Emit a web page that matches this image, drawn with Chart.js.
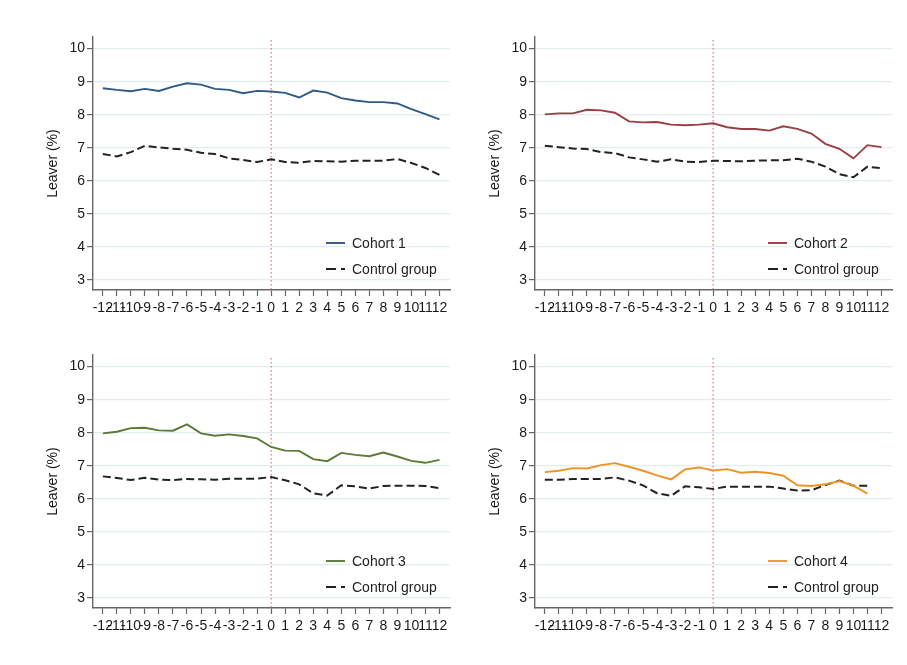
<!DOCTYPE html>
<html>
<head>
<meta charset="utf-8">
<script src="https://cdn.jsdelivr.net/npm/chart.js@4.4.1/dist/chart.umd.min.js"></script>
<style>
  body { margin:0; background:#fff; }
  #wrap { position:relative; width:907px; height:665px; }
  canvas { position:absolute; }
</style>
</head>
<body>
<div id="wrap">
  <canvas id="c1" width="453" height="330" style="left:0px;top:0px"></canvas>
  <canvas id="c2" width="453" height="330" style="left:442px;top:0px"></canvas>
  <canvas id="c3" width="453" height="330" style="left:0px;top:318px"></canvas>
  <canvas id="c4" width="453" height="330" style="left:442px;top:318px"></canvas>
</div>
<script>
// event time relative to treatment
var periods = [-12,-11,-10,-9,-8,-7,-6,-5,-4,-3,-2,-1,0,1,2,3,4,5,6,7,8,9,10,11,12];
var yTicks = [3,4,5,6,7,8,9,10];

var cohort1  = [8.80,8.75,8.71,8.78,8.72,8.85,8.95,8.91,8.78,8.75,8.65,8.72,8.70,8.66,8.52,8.73,8.67,8.50,8.43,8.38,8.38,8.34,8.17,8.02,7.86];
var control1 = [6.81,6.74,6.87,7.06,7.01,6.97,6.94,6.85,6.81,6.68,6.63,6.57,6.65,6.57,6.55,6.60,6.59,6.58,6.61,6.61,6.61,6.66,6.54,6.39,6.18];

var cohort2  = [8.01,8.04,8.04,8.15,8.13,8.06,7.80,7.77,7.78,7.70,7.68,7.70,7.74,7.62,7.57,7.57,7.52,7.65,7.57,7.43,7.12,6.97,6.68,7.08,7.02];
var control2 = [7.06,7.02,6.98,6.96,6.87,6.84,6.71,6.65,6.58,6.65,6.58,6.57,6.61,6.60,6.59,6.61,6.62,6.62,6.67,6.58,6.43,6.20,6.11,6.43,6.38];

var cohort3  = [7.98,8.03,8.14,8.15,8.07,8.06,8.25,7.98,7.91,7.95,7.90,7.83,7.57,7.46,7.45,7.20,7.14,7.39,7.33,7.29,7.40,7.28,7.15,7.09,7.18];
var control3 = [6.68,6.63,6.57,6.64,6.58,6.57,6.60,6.59,6.58,6.61,6.61,6.61,6.66,6.56,6.44,6.17,6.10,6.41,6.38,6.31,6.39,6.40,6.40,6.39,6.32];

var cohort4  = [6.81,6.85,6.93,6.92,7.02,7.08,6.97,6.85,6.71,6.59,6.89,6.95,6.86,6.90,6.79,6.82,6.78,6.70,6.41,6.39,6.44,6.54,6.40,6.16,null];
var control4 = [6.58,6.58,6.60,6.60,6.60,6.65,6.55,6.41,6.17,6.09,6.38,6.35,6.30,6.37,6.37,6.37,6.37,6.31,6.25,6.26,6.42,6.55,6.40,6.40,null];

var cohortNames = ['Cohort 1','Cohort 2','Cohort 3','Cohort 4'];
var controlName = 'Control group';

var colors = ['#2f5a84','#983f46','#5a7a35','#ec9426'];
var axisGray = '#666666';
var font = "'Liberation Sans', Arial, sans-serif";

function pts(arr){
  return periods.map(function(p,i){ return {x:p, y:arr[i]}; });
}

// dotted red line at event time 0
var zeroLine = {
  id:'zeroLine',
  beforeDatasetsDraw: function(chart){
    var ctx = chart.ctx, a = chart.chartArea;
    var x = chart.scales.x.getPixelForValue(0);
    ctx.save();
    ctx.strokeStyle = '#f06262';
    ctx.lineWidth = 1.1;
    ctx.setLineDash([1.5,2.5]);
    ctx.beginPath();
    ctx.moveTo(x, a.top + 3);
    ctx.lineTo(x, a.bottom);
    ctx.stroke();
    ctx.restore();
  }
};

// legend inside the plot, lower right
var innerLegend = {
  id:'innerLegend',
  afterDraw: function(chart){
    var ctx = chart.ctx, a = chart.chartArea;
    ctx.save();
    ctx.font = '14px ' + font;
    ctx.textBaseline = 'middle';
    chart.data.datasets.forEach(function(ds,i){
      var x = a.left + 233, y = a.top + 206 + i*26;
      ctx.strokeStyle = ds.borderColor;
      ctx.lineWidth = ds.borderWidth;
      ctx.setLineDash(ds.borderDash ? [10,5] : []);
      ctx.beginPath();
      ctx.moveTo(x, y);
      ctx.lineTo(x + 19, y);
      ctx.stroke();
      ctx.setLineDash([]);
      ctx.fillStyle = '#222';
      ctx.fillText(ds.label, x + 26, y + 1);
    });
    ctx.restore();
  }
};

function makeChart(id, name, color, cohort, control){
  var ctx = document.getElementById(id).getContext('2d');
  return new Chart(ctx, {
    type:'line',
    data:{
      datasets:[{
        label:name,
        data:pts(cohort),
        borderColor:color,
        backgroundColor:color,
        borderWidth:1.9,
        pointRadius:0,
        tension:0
      },{
        label:controlName,
        data:pts(control),
        borderColor:'#222222',
        backgroundColor:'#222222',
        borderWidth:2,
        borderDash:[8,4],
        pointRadius:0,
        tension:0
      }]
    },
    options:{
      responsive:false,
      animation:false,
      layout:{ padding:{ left:45, top:37, right:3, bottom:0 } },
      plugins:{ legend:{display:false}, tooltip:{enabled:false} },
      scales:{
        x:{
          type:'linear',
          min:-12.7,
          max:12.75,
          afterBuildTicks:function(s){ s.ticks = periods.map(function(v){ return {value:v}; }); },
          afterFit:function(s){ s.height = 40; },
          ticks:{
            autoSkip:false, maxRotation:0, minRotation:0, padding:4,
            color:'#1a1a1a', font:{family:font, size:14},
            callback:function(v){ return String(v); }
          },
          grid:{ drawOnChartArea:false, drawTicks:true, tickLength:6, tickColor:axisGray, tickWidth:1.2 },
          border:{ display:true, color:axisGray, width:1.4 }
        },
        y:{
          min:2.7,
          max:10.35,
          afterBuildTicks:function(s){ s.ticks = yTicks.map(function(v){ return {value:v}; }); },
          afterFit:function(s){ s.width = 48; },
          ticks:{ padding:2, color:'#1a1a1a', font:{family:font, size:14} },
          grid:{ color:'#e3ecef', lineWidth:1.2, drawTicks:true, tickLength:6, tickColor:axisGray, tickWidth:1.2 },
          border:{ display:true, color:axisGray, width:1.4 },
          title:{ display:true, text:'Leaver (%)', color:'#1a1a1a', font:{family:font, size:14}, padding:0 }
        }
      }
    },
    plugins:[zeroLine, innerLegend]
  });
}

makeChart('c1', cohortNames[0], colors[0], cohort1, control1);
makeChart('c2', cohortNames[1], colors[1], cohort2, control2);
makeChart('c3', cohortNames[2], colors[2], cohort3, control3);
makeChart('c4', cohortNames[3], colors[3], cohort4, control4);
</script>
</body>
</html>
